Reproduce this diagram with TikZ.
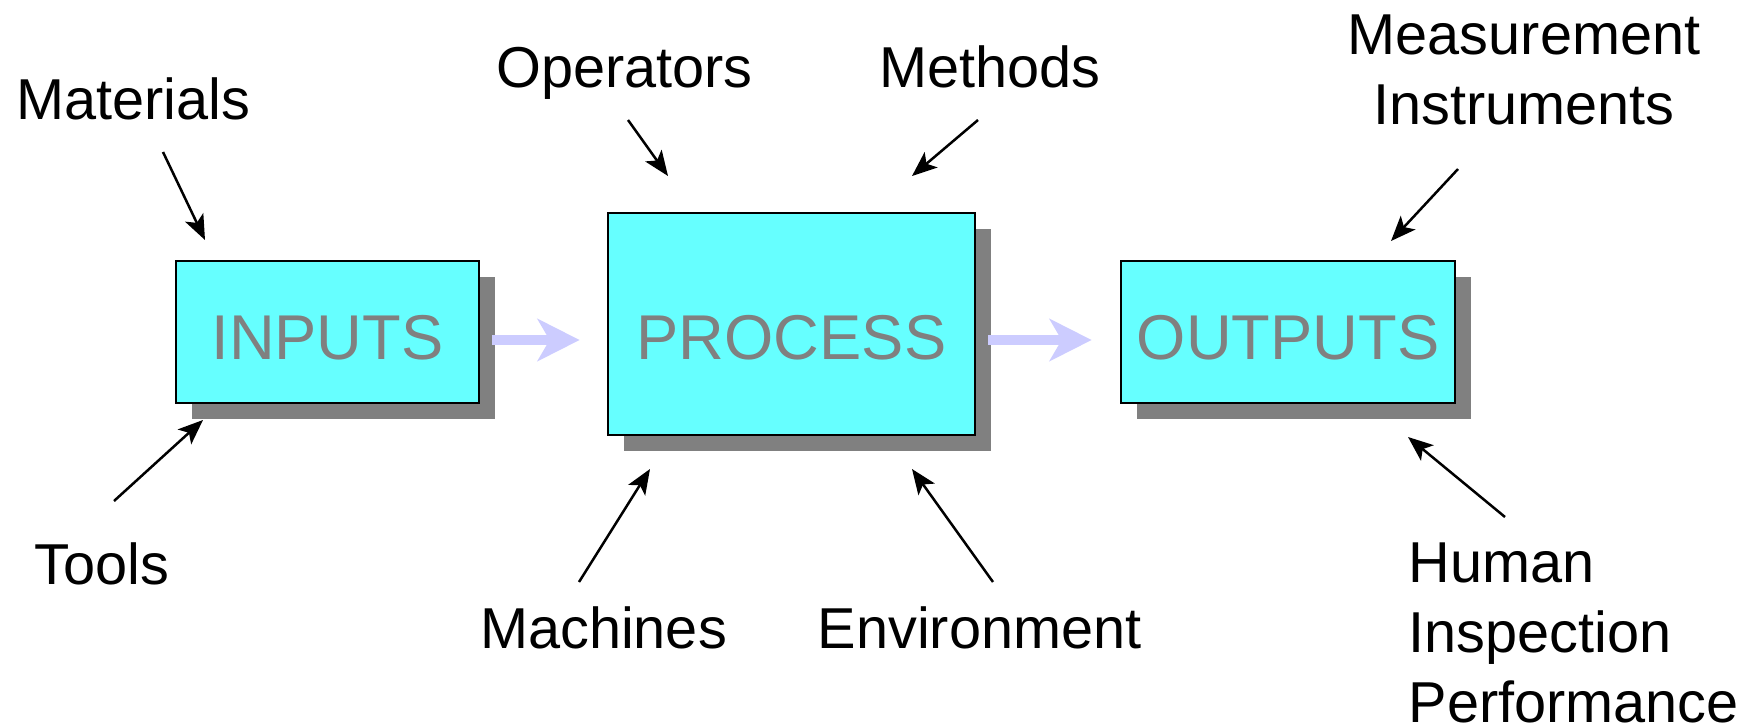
\documentclass[tikz,border=0pt]{standalone}
\usepackage{fontspec}
\setmainfont{Liberation Sans}
\usetikzlibrary{arrows.meta,shadows}
\definecolor{boxcyan}{HTML}{66FFFF}
\definecolor{flowblue}{HTML}{CCCCFF}
\definecolor{boxgray}{HTML}{808080}

\begin{document}
\begin{tikzpicture}[x=0.01cm,y=-0.01cm,
  block/.style={draw=black,line width=0.025cm,fill=boxcyan,inner sep=0,
    drop shadow={shadow xshift=0.16cm,shadow yshift=-0.16cm,opacity=1,fill=boxgray}},
  block text/.style={anchor=base,inner sep=0,text=boxgray,font=\fontsize{18}{22}\selectfont},
  tag/.style={anchor=base,inner sep=0,font=\fontsize{16.4}{19.9}\selectfont},
  feed/.style={-{Stealth[length=0.25cm,width=0.2cm,inset=0.06cm]},line width=0.025cm},
  flow/.style={-{Stealth[length=0.42cm,width=0.42cm,inset=0.12cm]},line width=0.1cm,flowblue}]
  \useasboundingbox (0,0) rectangle (1755,727);

  \node[block,minimum width=3.03cm,minimum height=1.42cm] at (327.5,332) (Inputs) {};
  \node[block,minimum width=3.67cm,minimum height=2.22cm] at (791.5,324) (Process) {};
  \node[block,minimum width=3.34cm,minimum height=1.42cm] at (1288,332) (Outputs) {};
  \node[block text] at (327.5,359) (Inputs Text) {INPUTS};
  \node[block text] at (791.5,359) (Process Text) {PROCESS};
  \node[block text] at (1288,359) (Outputs Text) {OUTPUTS};

  \draw[flow] ([shift={(12,8)}]Inputs.east) -- ([shift={(-27,16)}]Process.west);
  \draw[flow] ([shift={(12,16)}]Process.east) -- ([shift={(-28,8)}]Outputs.west);

  \node[tag] at (133.5,119) (Materials) {Materials};
  \node[tag] at (101.5,584) (Tools) {Tools};
  \node[tag] at (624.5,87) (Operators) {Operators};
  \node[tag] at (990,87) (Methods) {Methods};
  \node[tag] at (603.5,648) (Machines) {Machines};
  \node[tag] at (979.5,648) (Environment) {Environment};
  \node[tag,align=center] at (1524,124) (Instruments) {Measurement\\Instruments};
  \node[tag,align=left,anchor=base west] at (1408,722) (Performance) {Human\\Inspection\\Performance};

  \coordinate (Materials Tail) at (163,152);
  \coordinate (Materials Head) at (205,240);
  \coordinate (Tools Tail) at (114,501);
  \coordinate (Tools Head) at (203,420);
  \coordinate (Operators Tail) at (628,120);
  \coordinate (Operators Head) at (668,176);
  \coordinate (Methods Tail) at (978,120);
  \coordinate (Methods Head) at (912,176);
  \coordinate (Machines Tail) at (579,582);
  \coordinate (Machines Head) at (650,469);
  \coordinate (Environment Tail) at (993,582);
  \coordinate (Environment Head) at (912,469);
  \coordinate (Instruments Tail) at (1458,169);
  \coordinate (Instruments Head) at (1391,241);
  \coordinate (Performance Tail) at (1505,517);
  \coordinate (Performance Head) at (1408,437);

  \draw[feed] (Materials Tail) -- (Materials Head);
  \draw[feed] (Tools Tail) -- (Tools Head);
  \draw[feed] (Operators Tail) -- (Operators Head);
  \draw[feed] (Methods Tail) -- (Methods Head);
  \draw[feed] (Machines Tail) -- (Machines Head);
  \draw[feed] (Environment Tail) -- (Environment Head);
  \draw[feed] (Instruments Tail) -- (Instruments Head);
  \draw[feed] (Performance Tail) -- (Performance Head);
\end{tikzpicture}
\end{document}
